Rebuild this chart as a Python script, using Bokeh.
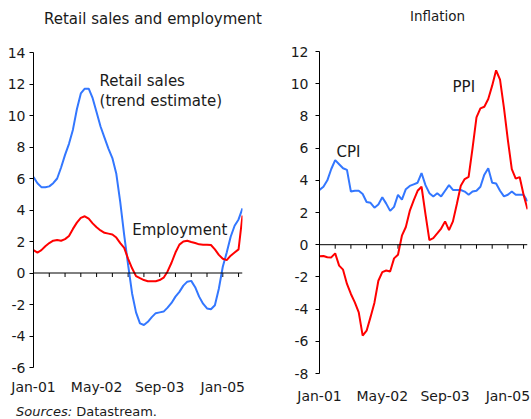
from bokeh.plotting import figure
from bokeh.models import Range1d, FixedTicker, Span, Label, Div
from bokeh.layouts import row, column
from bokeh.embed import file_html
from bokeh.resources import INLINE

# ---- data (monthly, Jan-01 .. Jun-05) ----
tick_labels = {0: "Jan-01", 16: "May-02", 32: "Sep-03", 48: "Jan-05"}
left_yticks = [-6, -4, -2, 0, 2, 4, 6, 8, 10, 12, 14]
right_yticks = [-8, -6, -4, -2, 0, 2, 4, 6, 8, 10, 12]

retail_sales = [6.1, 5.7, 5.45, 5.45, 5.5, 5.7, 6.0, 6.7, 7.5, 8.2,
                9.1, 10.4, 11.4, 11.7, 11.7, 11.1, 10.2, 9.3, 8.6, 7.9,
                7.3, 6.3, 4.5, 2.4, 0.5, -1.3, -2.5, -3.2, -3.3, -3.1,
                -2.8, -2.55, -2.5, -2.45, -2.2, -1.9, -1.5, -1.2, -0.8, -0.55,
                -0.5, -0.9, -1.5, -1.95, -2.25, -2.3, -2.05, -1.0, 0.4, 1.3,
                2.3, 3.0, 3.4, 4.1]

employment = [1.45, 1.3, 1.45, 1.7, 1.9, 2.05, 2.1, 2.05, 2.15, 2.35,
              2.8, 3.2, 3.5, 3.6, 3.45, 3.15, 2.9, 2.7, 2.55, 2.5,
              2.45, 2.25, 1.9, 1.6, 0.9, 0.3, -0.2, -0.33, -0.45, -0.52,
              -0.53, -0.52, -0.45, -0.3, 0.1, 0.65, 1.3, 1.8, 2.0, 2.05,
              1.97, 1.9, 1.82, 1.8, 1.8, 1.78, 1.5, 1.15, 0.9, 0.82,
              1.1, 1.3, 1.5, 3.65]

cpi = [3.4, 3.6, 4.0, 4.7, 5.25, 5.0, 4.75, 4.65, 3.3, 3.35,
       3.35, 3.15, 2.65, 2.6, 2.3, 2.5, 2.95, 2.55, 2.1, 2.35,
       3.1, 2.8, 3.45, 3.65, 3.75, 3.85, 4.45, 3.7, 3.2, 3.0,
       3.2, 3.0, 3.35, 3.7, 3.4, 3.4, 3.4, 3.3, 3.1, 3.3,
       3.35, 3.6, 4.35, 4.75, 3.85, 3.8, 3.35, 3.0, 3.1, 3.3,
       3.1, 3.1, 3.1, 2.7]

ppi = [-0.72, -0.70, -0.78, -0.79, -0.54, -1.30, -1.55, -2.44, -3.06, -3.58,
       -4.2, -5.65, -5.34, -4.5, -3.6, -2.24, -1.7, -1.6, -1.66, -0.85,
       -0.62, 0.56, 1.1, 2.1, 2.75, 3.35, 3.6, 1.9, 0.29, 0.41,
       0.7, 1.0, 1.45, 0.91, 1.45, 2.53, 3.66, 4.08, 4.22, 6.0,
       7.91, 8.47, 8.57, 9.05, 9.88, 10.83, 10.25, 8.5, 6.5, 4.7,
       4.1, 4.2, 3.1, 2.2]

months = list(range(len(retail_sales)))
minor_ticks = list(range(0, len(months), 4))

FONT = "DejaVu Sans"
TXT = "#1a1a1a"
BLUE = "#3377FF"
RED = "#FF0000"


def base(width, height, yr, yticks, mbl, mbr, mbt, mbb, standoff_y, standoff_x):
    p = figure(width=width, height=height, x_range=Range1d(0, len(months) - 1),
               y_range=Range1d(*yr), output_backend="svg", toolbar_location=None,
               min_border_left=mbl, min_border_right=mbr, min_border_top=mbt,
               min_border_bottom=mbb)
    p.outline_line_color = None
    p.grid.visible = False
    p.background_fill_color = "white"
    p.border_fill_color = "white"
    ya = p.yaxis[0]
    ya.ticker = FixedTicker(ticks=yticks)
    ya.major_label_overrides = {v: str(v) for v in yticks}
    ya.major_tick_out = 4
    ya.major_tick_in = 0
    ya.minor_tick_line_color = None
    ya.axis_line_color = "black"
    ya.major_tick_line_color = "black"
    ya.major_label_text_font = FONT
    ya.major_label_text_font_size = "14px"
    ya.major_label_text_color = TXT
    ya.major_label_standoff = standoff_y
    xa = p.xaxis[0]
    xa.ticker = FixedTicker(ticks=list(tick_labels.keys()))
    xa.major_label_overrides = tick_labels
    xa.axis_line_color = None
    xa.major_tick_line_color = None
    xa.minor_tick_line_color = None
    xa.major_tick_out = 0
    xa.major_tick_in = 0
    xa.major_label_standoff = standoff_x
    xa.major_label_text_font = FONT
    xa.major_label_text_font_size = "14px"
    xa.major_label_text_color = TXT
    p.add_layout(Span(location=0, dimension="width", line_color="black", line_width=1))
    return p


def lab(p, x, y, text, size, align="left", style="normal"):
    p.add_layout(Label(x=x, y=y, text=text, text_font=FONT, text_font_size=size,
                       text_color=TXT, text_align=align, text_baseline="middle",
                       text_font_style=style))


def text_div(html, width, height, size, line_h, pad_left, pad_top):
    inner = (f'<div style="font-family:\'{FONT}\';font-size:{size};color:{TXT};'
             f'line-height:{line_h}px;padding-left:{pad_left}px;padding-top:{pad_top}px;'
             f'white-space:nowrap;margin:0">{html}</div>')
    return Div(text=inner, width=width, height=height, margin=0)


# ---- left panel ----
title1 = text_div("Retail sales and employment", 270, 30, "15px", 18, 44, 10)
p1 = base(270, 373, (-6, 14), left_yticks, 33, 28, 22, 36, 4, 11)
p1.segment(x0=minor_ticks, y0=[0] * len(minor_ticks), x1=minor_ticks,
           y1=[-0.254] * len(minor_ticks), line_color="black", line_width=1)
p1.line(months, retail_sales, line_color=BLUE, line_width=2)
p1.line(months, employment, line_color=RED, line_width=2)
lab(p1, 16.75, 12.22, "Retail sales", "15px")
lab(p1, 16.75, 10.95, "(trend estimate)", "15px")
lab(p1, 25.05, 2.70, "Employment", "15px")
source_note = text_div("<i>Sources:</i> Datastream.", 270, 16, "13px", 16, 16, 1)

# ---- right panel ----
title2 = text_div("Inflation", 261, 28, "13.5px", 16, 140, 8)
p2 = base(261, 391, (-8, 12), right_yticks, 49, 4, 23, 46, 7, 14)
p2.segment(x0=minor_ticks, y0=[0] * len(minor_ticks), x1=minor_ticks,
           y1=[-0.25] * len(minor_ticks), line_color="black", line_width=1)
p2.line(months, cpi, line_color=BLUE, line_width=2)
p2.line(months, ppi, line_color=RED, line_width=2)
lab(p2, 4.34, 5.78, "CPI", "15px")
lab(p2, 33.9, 9.81, "PPI", "15px")

layout = row(column(title1, p1, source_note), column(title2, p2))
open("out.html", "w").write(file_html(layout, INLINE))
